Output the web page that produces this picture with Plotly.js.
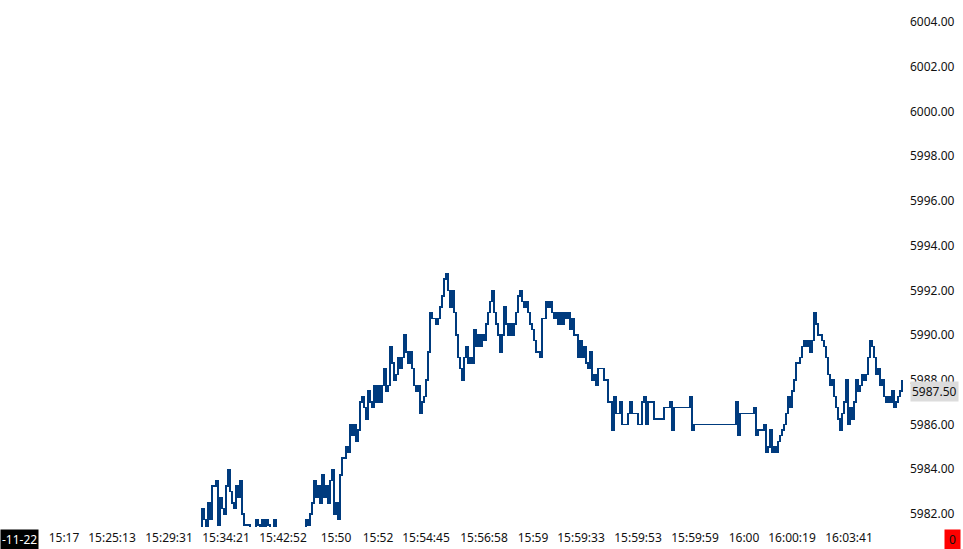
<!DOCTYPE html>
<html>
<head>
<meta charset="utf-8">
<script src="https://cdn.plot.ly/plotly-3.0.1.min.js"></script>
<style>
  html, body { margin: 0; padding: 0; background: #fff; }
  #chart { width: 963px; height: 549px; }
  #chart .scatterlayer path { shape-rendering: crispEdges; }
</style>
</head>
<body>
<div id="chart"></div>
<script>
// tick index of the first sample shown
const startTick = 100;

// last price per tick slot (ES, 0.25 steps)
const prices = [
  5981.25, 5982.25, 5981.75, 5981.25, 5982.5, 5981.75, 5983.25, 5983.25, 5983.5, 5981.5,
  5982.75, 5982.25, 5982.0, 5983.25, 5984.0, 5983.0, 5982.5, 5982.25, 5983.25, 5982.75,
  5983.5, 5982.0, 5981.5, 5981.5, 5981.5, 5981.0, 5981.0, 5981.25, 5981.75, 5981.5,
  5981.25, 5981.75, 5981.25, 5981.75, 5981.5, 5981.25, 5981.0, 5981.75, 5981.0, 5981.0,
  5981.0, 5981.25, 5981.0, 5980.75, 5981.0, 5981.25, 5981.0, 5981.0, 5981.25, 5981.0,
  5981.0, 5981.25, 5981.0, 5981.75, 5981.5, 5982.0, 5982.5, 5983.5, 5982.75, 5983.25,
  5982.5, 5983.75, 5982.75, 5983.25, 5982.5, 5983.5, 5984.0, 5982.0, 5982.5, 5981.75,
  5983.75, 5984.5, 5984.5, 5985.0, 5984.75, 5986.0, 5985.5, 5986.0, 5985.25, 5985.75,
  5987.0, 5987.25, 5986.75, 5986.25, 5987.5, 5987.0, 5986.75, 5987.75, 5987.0, 5987.75,
  5987.0, 5987.75, 5988.5, 5987.5, 5987.75, 5989.5, 5988.75, 5988.0, 5988.25, 5989.0,
  5988.5, 5989.0, 5990.0, 5989.25, 5988.75, 5989.25, 5988.5, 5987.75, 5987.5, 5987.75,
  5986.5, 5987.0, 5987.25, 5988.0, 5989.25, 5991.0, 5990.75, 5990.75, 5990.5, 5990.75,
  5991.25, 5991.75, 5992.5, 5992.75, 5992.0, 5991.25, 5992.0, 5991.0, 5990.0, 5989.0,
  5988.5, 5988.0, 5989.0, 5989.5, 5988.75, 5989.0, 5988.75, 5990.25, 5989.5, 5990.0,
  5989.5, 5990.0, 5989.75, 5990.5, 5991.0, 5991.5, 5992.0, 5991.0, 5990.5, 5990.0,
  5989.25, 5990.0, 5991.25, 5990.5, 5990.0, 5990.5, 5990.0, 5990.5, 5991.0, 5991.75,
  5992.0, 5991.5, 5991.25, 5991.5, 5991.0, 5990.5, 5990.25, 5989.75, 5989.25, 5989.25,
  5989.0, 5990.75, 5990.75, 5991.5, 5991.25, 5991.5, 5991.0, 5990.75, 5991.0, 5990.5,
  5991.0, 5990.5, 5991.0, 5990.75, 5991.0, 5990.25, 5990.75, 5990.0, 5990.0, 5989.0,
  5989.75, 5989.0, 5989.5, 5988.75, 5988.5, 5989.25, 5988.0, 5988.25, 5987.75, 5988.5,
  5988.5, 5988.5, 5988.0, 5988.0, 5987.0, 5987.0, 5985.75, 5987.25, 5986.5, 5986.5,
  5987.0, 5986.0, 5986.0, 5986.0, 5986.5, 5987.0, 5986.5, 5986.5, 5986.5, 5986.0,
  5986.0, 5987.0, 5987.25, 5986.0, 5987.0, 5987.0, 5987.0, 5986.25, 5986.25, 5986.25,
  5986.25, 5986.25, 5986.75, 5986.75, 5986.75, 5987.0, 5985.75, 5986.75, 5986.75, 5986.75,
  5986.75, 5986.75, 5986.75, 5986.75, 5986.75, 5987.25, 5985.75, 5986.0, 5986.0, 5986.0,
  5986.0, 5986.0, 5986.0, 5986.0, 5986.0, 5986.0, 5986.0, 5986.0, 5986.0, 5986.0,
  5986.0, 5986.0, 5986.0, 5986.0, 5986.0, 5986.0, 5986.0, 5986.0, 5987.0, 5985.5,
  5986.5, 5986.5, 5986.5, 5986.5, 5986.5, 5986.5, 5986.5, 5986.75, 5985.5, 5985.75,
  5985.75, 5985.75, 5986.0, 5984.75, 5985.0, 5985.75, 5984.75, 5985.0, 5984.75, 5985.25,
  5985.5, 5985.75, 5986.0, 5986.5, 5987.25, 5986.75, 5987.5, 5988.0, 5988.75, 5988.75,
  5989.0, 5989.5, 5989.75, 5989.5, 5989.75, 5989.25, 5989.75, 5991.0, 5990.5, 5990.0,
  5990.0, 5989.75, 5989.5, 5989.0, 5988.25, 5987.75, 5988.0, 5987.25, 5986.75, 5986.25,
  5985.75, 5986.5, 5987.0, 5988.0, 5986.0, 5986.75, 5986.25, 5987.0, 5988.0, 5987.5,
  5987.75, 5988.25, 5988.0, 5988.25, 5989.0, 5989.75, 5989.5, 5989.0, 5988.25, 5988.5,
  5987.75, 5988.0, 5987.25, 5987.0, 5987.25, 5987.0, 5987.5, 5986.75, 5987.0, 5987.25,
  5987.5, 5988.0
];

// time axis labels and the tick slot each sits on
const timeLabels = ["15:17", "15:25:13", "15:29:31", "15:34:21", "15:42:52", "15:50",
  "15:52", "15:54:45", "15:56:58", "15:59", "15:59:33", "15:59:53", "15:59:59",
  "16:00", "16:00:19", "16:03:41"];
const timeSlots = [32, 56, 84.5, 113, 141.5, 168, 189, 213, 242, 266.5, 290.5, 319,
  347.5, 372, 396, 424.5];

const dateTag = "-11-22";
const lastPrice = 5987.5;
const counter = "0";

const xs = prices.map((p, i) => startTick + i);

const data = [
  {
    x: xs,
    y: prices,
    type: "scatter",
    mode: "lines",
    line: { shape: "hv", color: "#003b7e", width: 1.4 },
    hoverinfo: "skip",
  },
];

const layout = {
  width: 963,
  height: 549,
  margin: { l: 0, r: 58, t: 0, b: 22, pad: 0 },
  paper_bgcolor: "#ffffff",
  plot_bgcolor: "#ffffff",
  showlegend: false,
  font: { family: "Noto Sans, sans-serif", size: 12, color: "#111" },
  xaxis: {
    range: [0, 452.5],
    tickmode: "array",
    tickvals: timeSlots,
    ticktext: timeLabels,
    tickangle: 0,
    showgrid: false,
    zeroline: false,
    showline: false,
    ticks: "",
    ticklabelstandoff: 2,
    automargin: false,
    fixedrange: true,
  },
  yaxis: {
    side: "right",
    range: [5981.419, 6004.984],
    tick0: 5982,
    dtick: 2,
    tickformat: ".2f",
    showgrid: false,
    zeroline: false,
    showline: false,
    ticks: "",
    ticklabelstandoff: 4,
    automargin: false,
    fixedrange: true,
  },
  annotations: [
    {
      xref: "paper", yref: "paper", x: 0, y: 0,
      xanchor: "left", yanchor: "top", yshift: -2,
      text: dateTag, showarrow: false,
      bgcolor: "#000000", borderpad: 1,
      font: { color: "#ffffff", size: 12 },
    },
    {
      xref: "paper", yref: "paper", x: 1, y: 0,
      xanchor: "right", yanchor: "top", xshift: 56, yshift: -2,
      text: counter, showarrow: false,
      bgcolor: "#ff0000", borderpad: 1, width: 13,
      font: { color: "#111", size: 12 },
    },
    {
      xref: "paper", yref: "y", x: 1, y: lastPrice,
      xanchor: "left", yanchor: "middle", xshift: 5,
      text: lastPrice.toFixed(2), showarrow: false,
      bgcolor: "#dcdcdc", borderpad: 1,
      font: { color: "#111", size: 12 },
    },
  ],
};

Plotly.newPlot("chart", data, layout, { displayModeBar: false, staticPlot: true });
</script>
</body>
</html>
